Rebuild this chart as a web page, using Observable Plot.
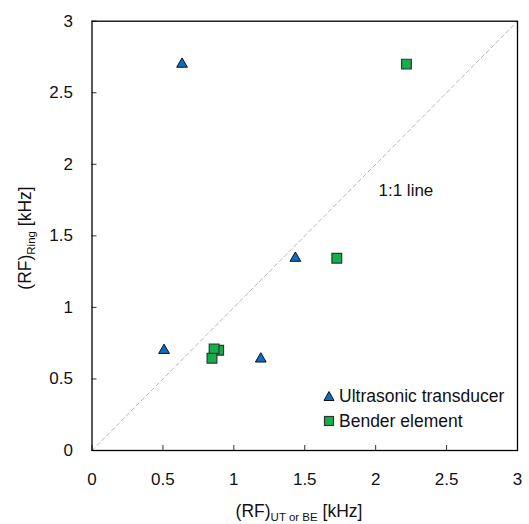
<!DOCTYPE html>
<html><head><meta charset="utf-8">
<script src="https://cdn.jsdelivr.net/npm/d3@7"></script>
<script src="https://cdn.jsdelivr.net/npm/@observablehq/plot@0.6"></script>
<style>
body{margin:0;background:#fff;font-family:"Liberation Sans",Arial,sans-serif;}
#wrap{position:relative;width:529px;height:524px;}
#legend{position:absolute;left:323px;top:384px;font-size:17.5px;color:#111;line-height:24.7px;}
#legend div{display:flex;align-items:center;}
#legend svg{margin-right:4px;}
</style></head><body>
<div id="wrap"><div id="legend"></div></div>
<script>
const utX = [0.635, 0.508, 1.19, 1.434];
const utY = [2.70, 0.70, 0.64, 1.344];
const beX = [2.217, 1.726, 0.893, 0.861, 0.846];
const beY = [2.70, 1.344, 0.70, 0.71, 0.645];
const ticks = [0, 0.5, 1, 1.5, 2, 2.5, 3];
const diag = [0, 3];
const seriesNames = ["Ultrasonic transducer", "Bender element"];

const ut = utX.map((x, i) => ({x, y: utY[i]}));
const be = beX.map((x, i) => ({x, y: beY[i]}));

const chart = Plot.plot({
  width: 529, height: 524,
  marginLeft: 91.5, marginRight: 12, marginTop: 20.7, marginBottom: 74,
  style: {fontFamily: '"Liberation Sans", Arial, sans-serif', fontSize: "17px", color: "#111", background: "#fff"},
  x: {domain: [0, 3], ticks: ticks, label: null},
  y: {domain: [0, 3], ticks: ticks, label: null},
  marks: [
    Plot.line(diag, {x: d => d, y: d => d, stroke: "#b8b8b8", strokeWidth: 1, strokeDasharray: "4,3"}),
    Plot.axisX({ticks: ticks, tickSize: -5, tickPadding: 27, fontSize: 17, tickFormat: d => String(d), stroke: "#333"}),
    Plot.axisY({ticks: ticks, tickSize: -5, tickPadding: 24, fontSize: 17, tickFormat: d => String(d), stroke: "#333"}),
    Plot.frame({stroke: "#000", strokeWidth: 1.3}),
    Plot.dot(ut, {x: "x", y: "y", symbol: "triangle", r: 4, fill: "#0a6fc2", stroke: "#111", strokeWidth: 1}),
    Plot.dot(be, {x: "x", y: "y", symbol: "square", r: 5.5, fill: "#12b04a", stroke: "#333", strokeWidth: 1.2}),
    Plot.text(["1:1 line"], {x: 2.02, y: 1.82, text: d => d, textAnchor: "start", fontSize: 17, fill: "#111"})
  ]
});
document.getElementById("wrap").prepend(chart);

const svg = d3.select(chart);
// x-axis title
const xt = svg.append("text").attr("x", 299).attr("y", 517).attr("text-anchor", "middle")
  .attr("font-size", 17.5).attr("fill", "#111");
xt.append("tspan").text("(RF)");
xt.append("tspan").attr("font-size", 11.5).attr("dy", 4).text("UT or BE");
xt.append("tspan").attr("dy", -4).text(" [kHz]");
// y-axis title
const yt = svg.append("text").attr("transform", "translate(31,238) rotate(-90)").attr("text-anchor", "middle")
  .attr("font-size", 17.5).attr("fill", "#111");
yt.append("tspan").text("(RF)");
yt.append("tspan").attr("font-size", 11.5).attr("dy", 4).text("Ring");
yt.append("tspan").attr("dy", -4).text(" [kHz]");

// legend
const lg = document.getElementById("legend");
lg.innerHTML =
  `<div><svg width="12" height="12"><polygon points="6,1.5 11,10.5 1,10.5" fill="#0a6fc2" stroke="#111" stroke-width="1"/></svg>${seriesNames[0]}</div>` +
  `<div><svg width="12" height="12"><rect x="1.5" y="1.5" width="9" height="9" fill="#12b04a" stroke="#333" stroke-width="1.2"/></svg>${seriesNames[1]}</div>`;
</script>
</body></html>
